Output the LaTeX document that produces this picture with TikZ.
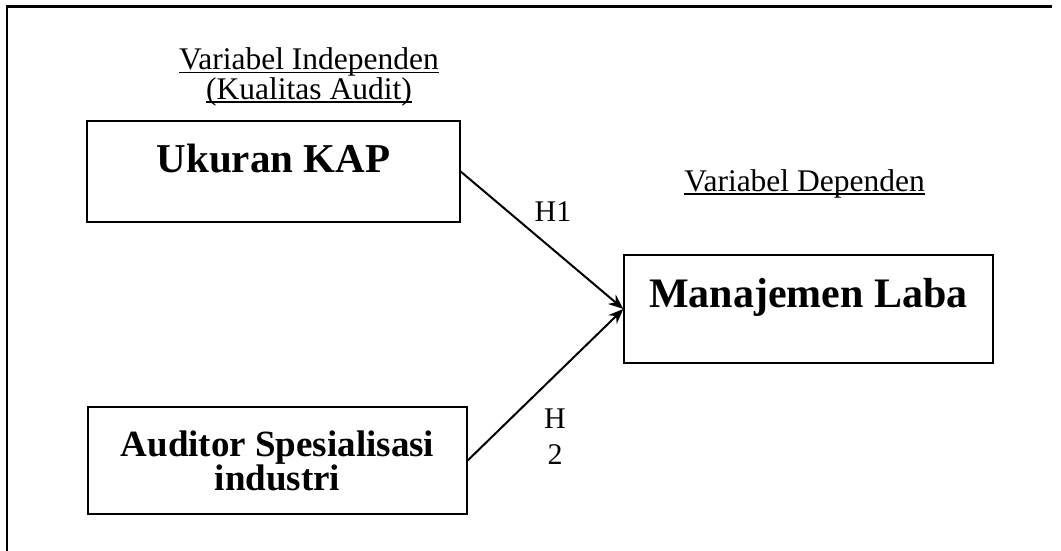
\documentclass[tikz,border=0pt]{standalone}
\usepackage{fontspec}
\setmainfont{Liberation Serif}
\usepackage{tikz}
\usetikzlibrary{ arrows.meta, % For the arrow tips
                 positioning, % For easy node-relative placements
               }

% underline that sits close to the baseline
\newcommand\ulabel[1]{\leavevmode\setbox0\hbox{#1}\rlap{\vrule width \wd0 height -2pt depth 3.6pt}\box0}

\begin{document}
\begin{tikzpicture}[x=1pt, y=-1pt,
    varbox/.style={draw, line width=1.3pt, inner sep=0pt},
    bigtext/.style={font=\bfseries\fontsize{41}{41}\selectfont},
    lbl/.style={inner sep=0pt, align=center, font=\fontsize{31.5}{25}\selectfont},
    hyp/.style={draw, line width=2pt, -{Stealth[length=15pt, width=12pt]}}]
    \useasboundingbox (0,0) rectangle (1061,551);
    % frame
    \draw[line width=2.7pt] (7,551) -- (7,6.5) -- (1052,6.5);
    % variables
    \node[varbox, bigtext, minimum width=373pt, minimum height=101pt,
          text height=30pt, text depth=29pt] (ukuran) at (273.5,171.5) {Ukuran KAP};
    \node[varbox, bigtext, font=\bfseries\fontsize{42}{42}\selectfont,
          minimum width=369pt, minimum height=108pt,
          text height=30pt, text depth=34pt] (laba) at (808.5,309) {Manajemen Laba};
    \node[varbox, align=center, font=\bfseries\fontsize{37}{34}\selectfont,
          minimum width=379pt, minimum height=107pt] (auditor) at (277.5,460.5)
          {Auditor Spesialisasi\\industri};
    % headings
    \node[lbl] (indep) at (309,77) {\ulabel{Variabel Independen}\\\ulabel{(Kualitas Audit)}};
    \node[lbl, anchor=base] (dep) at (804.5,191) {\ulabel{Variabel Dependen}};
    % hypotheses
    \draw[hyp] (ukuran.east) -- (laba.west);
    \draw[hyp] (auditor.east) -- (laba.west);
    \node[lbl, font=\fontsize{30}{30}\selectfont, anchor=base] (h1) at (553,221) {H1};
    \node[lbl, font=\fontsize{30}{36}\selectfont] (h2) at (555,437) {H\\2};
\end{tikzpicture}
\end{document}
